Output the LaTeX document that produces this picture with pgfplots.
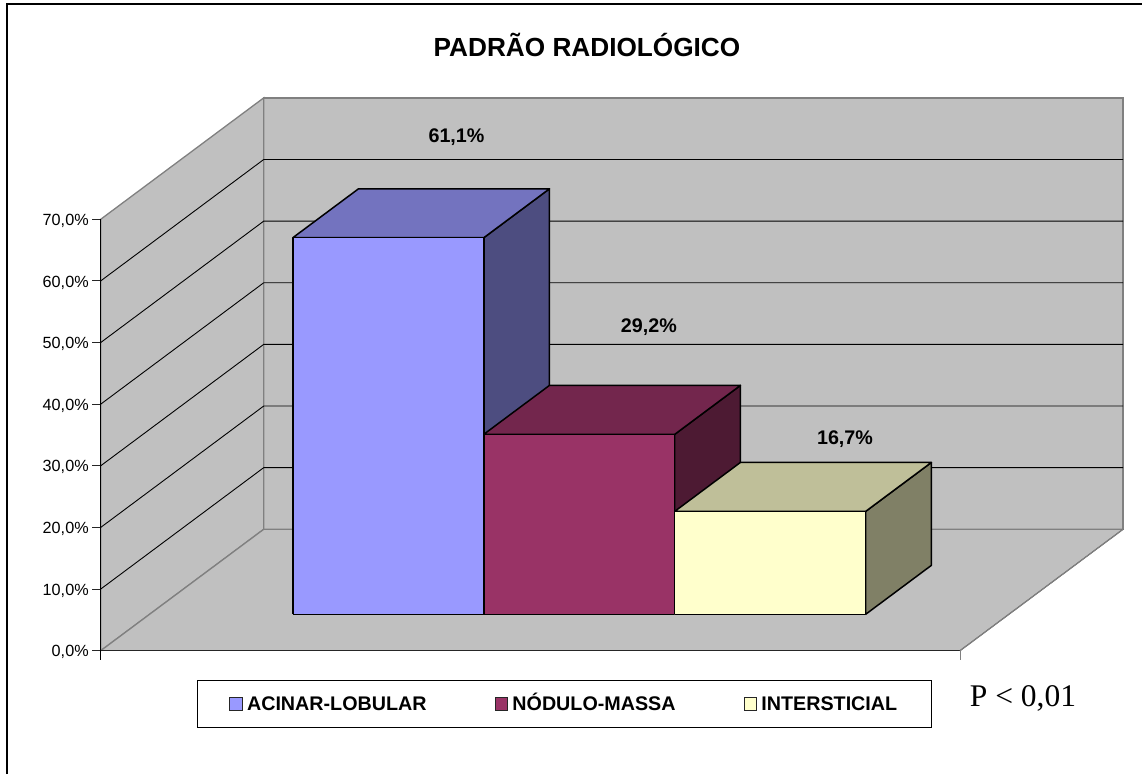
\documentclass[border=0pt]{standalone}
\usepackage{fontspec}
\setmainfont{Liberation Sans}
\newfontfamily\timesfont{Liberation Serif}
\usepackage{pgfplots}
\pgfplotsset{compat=1.18}

\definecolor{wall}{HTML}{C0C0C0}
\definecolor{edge}{HTML}{808080}
\definecolor{acinar}{HTML}{9999FF}
\definecolor{acinartop}{HTML}{7373BF}
\definecolor{acinarside}{HTML}{4D4D80}
\definecolor{nodulo}{HTML}{993366}
\definecolor{nodulotop}{HTML}{73264D}
\definecolor{noduloside}{HTML}{4D1A33}
\definecolor{inter}{HTML}{FFFFCC}
\definecolor{intertop}{HTML}{BFBF99}
\definecolor{interside}{HTML}{808066}

% one block: x from, x to, value, front, top, side
\newcommand{\block}[6]{
  \addplot3[forget plot,fill=#6,draw=black,line width=1.5pt,line join=round] coordinates {(#2,0.3,0) (#2,0.703,0) (#2,0.703,#3) (#2,0.3,#3) (#2,0.3,0)};
  \addplot3[forget plot,fill=#5,draw=black,line width=1.5pt,line join=round] coordinates {(#1,0.3,#3) (#2,0.3,#3) (#2,0.703,#3) (#1,0.703,#3) (#1,0.3,#3)};
  \addplot3[forget plot,fill=#4,draw=black,line width=1.5pt,line join=round] coordinates {(#1,0.3,0) (#2,0.3,0) (#2,0.3,#3) (#1,0.3,#3) (#1,0.3,0)};
}
\newcommand{\gridz}[1]{
  \addplot3[forget plot,black,line width=0.9pt] coordinates {(0,0,#1) (0,1,#1) (9,1,#1)};
}
% horizontal tick left of the value axis
\newcommand{\ztickmark}[1]{\draw[black!85,line width=0.9pt] (axis cs:0,0,#1) -- ++(-9pt,0pt);}
\newcommand{\legendkey}[1]{\draw[fill=#1,draw=black!85,line width=1pt] (0pt,-6.2pt) rectangle (12.5pt,6.2pt); \path (15pt,0pt);}

\begin{document}
\begin{tikzpicture}
\useasboundingbox (0,0) rectangle (1142pt,774pt);
\draw[line width=2pt] (7pt,0pt) -- (7pt,770pt) -- (1142pt,770pt);
\begin{axis}[
    at={(100.7pt,123.3pt)}, anchor=origin,
    disabledatascaling,
    x={(95.478pt,0pt)}, y={(163pt,121.4pt)}, z={(0pt,6.163pt)},
    xmin=0, xmax=9, ymin=0, ymax=1, zmin=0, zmax=70,
    axis lines*=left,
    axis on top,
    clip=false,
    xtick=\empty,
    ytick=\empty,
    ztick={0,10,20,30,40,50,60,70},
    zticklabels={{0,0\%},{10,0\%},{20,0\%},{30,0\%},{40,0\%},{50,0\%},{60,0\%},{70,0\%}},
    major tick length=0pt,
    z tick label style={font=\fontsize{16.2}{19}\selectfont,anchor=east,xshift=-8.5pt,yshift=-1.5pt},
    x axis line style={black!85,line width=1.3pt},
    y axis line style={edge,line width=1.2pt},
    z axis line style={black,line width=0.9pt},
    title={\textbf{PADRÃO RADIOLÓGICO}},
    title style={at={(axis cs:5.093,0,97.25)},anchor=center,font=\fontsize{26.2}{30}\selectfont},
    legend columns=3,
    legend cell align=left,
    legend style={
      at={(axis cs:4.854,0,-8.62)},anchor=center,
      font=\bfseries\fontsize{19.7}{22}\selectfont,
      draw=black,line width=0.9pt,
      inner xsep=32pt,inner ysep=13.5pt,
      nodes={text height=15pt,text depth=1pt},
      /tikz/every even column/.append style={column sep=66pt},
    },
]
\addplot3[forget plot,fill=wall,draw=edge,line width=1.3pt] coordinates {(0,1,0) (9,1,0) (9,1,70) (0,1,70) (0,1,0)};
\addplot3[forget plot,fill=wall,draw=edge,line width=1.3pt] coordinates {(0,0,0) (0,1,0) (0,1,70) (0,0,70) (0,0,0)};
\addplot3[forget plot,fill=wall,draw=none] coordinates {(0,0,0) (9,0,0) (9,1,0) (0,1,0) (0,0,0)};
\addplot3[forget plot,edge,line width=1.3pt] coordinates {(0,0,0) (0,1,0) (9,1,0)};
\addplot3[forget plot,black!80,line width=0.8pt] coordinates {(9,0,0) (9,1,0)};
\gridz{10}\gridz{20}\gridz{30}\gridz{40}\gridz{50}\gridz{60}
\block{1.5}{3.5}{61.1}{acinar}{acinartop}{acinarside}
\block{3.5}{5.5}{29.2}{nodulo}{nodulotop}{noduloside}
\block{5.5}{7.5}{16.7}{inter}{intertop}{interside}
\addlegendimage{legend image code/.code={\legendkey{acinar}}}
\addlegendentry{ACINAR-LOBULAR}
\addlegendimage{legend image code/.code={\legendkey{nodulo}}}
\addlegendentry{NÓDULO-MASSA}
\addlegendimage{legend image code/.code={\legendkey{inter}}}
\addlegendentry{INTERSTICIAL}
\node[font=\bfseries\fontsize{19.7}{22}\selectfont] at (axis cs:2.873,0.5,73.4) {61,1\%};
\node[font=\bfseries\fontsize{19.7}{22}\selectfont] at (axis cs:4.888,0.5,42.7) {29,2\%};
\node[font=\bfseries\fontsize{19.7}{22}\selectfont] at (axis cs:6.942,0.5,24.4) {16,7\%};
\ztickmark{0}\ztickmark{10}\ztickmark{20}\ztickmark{30}\ztickmark{40}\ztickmark{50}\ztickmark{60}\ztickmark{70}
\draw[black,line width=0.9pt] (axis cs:0,0,0) -- ++(0pt,-9pt);
\draw[edge,line width=0.9pt] (axis cs:9,0,0) -- ++(0pt,-9pt);
\end{axis}
\node[font=\timesfont\fontsize{31.5}{36}\selectfont,anchor=center] at (1023pt,76pt) {P < 0,01};
\end{tikzpicture}
\end{document}
